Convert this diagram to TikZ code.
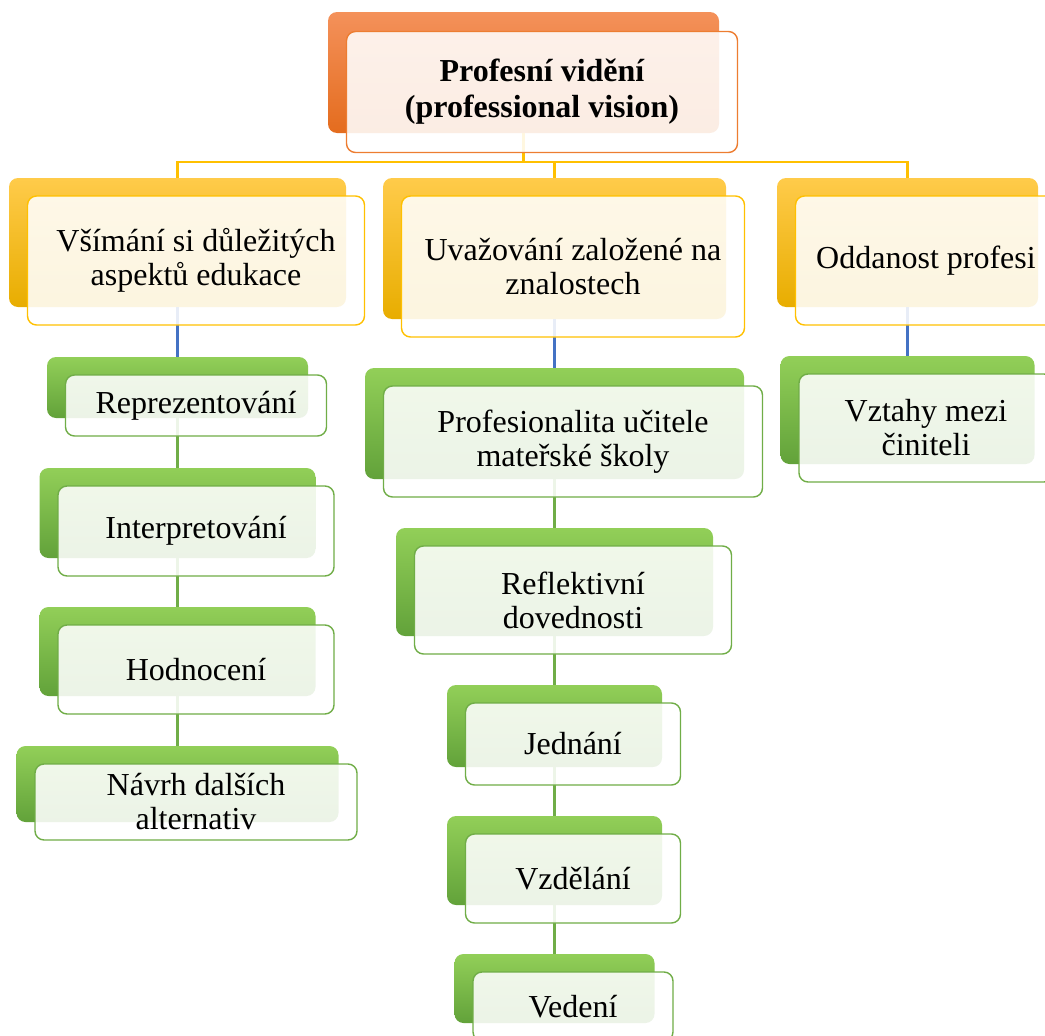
\documentclass[tikz,border=0pt]{standalone}
\usepackage{fontspec}
\setmainfont{Liberation Serif}
\definecolor{orT}{HTML}{F4915A}
\definecolor{orB}{HTML}{E46C1E}
\definecolor{orL}{HTML}{ED7D31}
\definecolor{ylT}{HTML}{FFCB4A}
\definecolor{ylB}{HTML}{E8AD00}
\definecolor{ylL}{HTML}{FFC000}
\definecolor{gnT}{HTML}{92CF58}
\definecolor{gnB}{HTML}{62A23A}
\definecolor{gnL}{HTML}{70AD47}
\definecolor{blL}{HTML}{4472C4}
\tikzset{
  backbox/.style={draw=none, rounded corners=9pt, inner sep=0pt},
  orback/.style={backbox, top color=orT, bottom color=orB},
  ylback/.style={backbox, top color=ylT, bottom color=ylB},
  gnback/.style={backbox, top color=gnT, bottom color=gnB},
  frontbox/.style={rounded corners=9pt, line width=1.4pt, fill=white, fill opacity=0.88,
    text opacity=1, draw opacity=1, align=center, inner sep=0pt,
    font=\fontsize{32}{34}\selectfont},
  orfront/.style={frontbox, draw=orL, font=\fontsize{32}{36}\selectfont\bfseries},
  ylfront/.style={frontbox, draw=ylL},
  gnfront/.style={frontbox, draw=gnL},
  yline/.style={draw=ylL, line width=2.4pt},
  bline/.style={draw=blL, line width=2.4pt},
  gline/.style={draw=gnL, line width=2.4pt},
  dim/.style 2 args={minimum width=#1pt, minimum height=#2pt}
}
\begin{document}
\begin{tikzpicture}[x=1pt, y=-1pt]
\useasboundingbox (0,0) rectangle (1045,1036);
\clip (0,0) rectangle (1045,1036);
% back boxes
\node[orback, dim={391}{121}] (rootB) at (523.5,72.5) {};
\node[ylback, dim={337}{129}] (y1B) at (177.5,242.5) {};
\node[ylback, dim={343}{141}] (y2B) at (554.5,248.5) {};
\node[ylback, dim={261}{129}] (y3B) at (907.5,242.5) {};
\node[gnback, dim={261}{61}] (repB) at (177.5,387.5) {};
\node[gnback, dim={276}{90}] (intB) at (177.5,513) {};
\node[gnback, dim={276}{89}] (hodB) at (177.5,651.5) {};
\node[gnback, dim={322}{76}] (navB) at (177.5,784) {};
\node[gnback, dim={379}{111}] (proB) at (554.5,423.5) {};
\node[gnback, dim={317}{108}] (refB) at (554.5,582) {};
\node[gnback, dim={215}{82}] (jedB) at (554.5,726) {};
\node[gnback, dim={215}{89}] (vzdB) at (554.5,860.5) {};
\node[gnback, dim={200}{69}] (vedB) at (554.5,988.5) {};
\node[gnback, dim={254}{108}] (vztB) at (907.5,410) {};
% connectors
\draw[yline] (rootB.south) -- ++(0,29) coordinate (hub);
\draw[yline] (hub) -| (y1B.north);
\draw[yline] (hub) -| (y2B.north);
\draw[yline] (hub) -| (y3B.north);
\draw[bline] (y1B.south) -- (repB.north);
\draw[bline] (y2B.south) -- (proB.north);
\draw[bline] (y3B.south) -- (vztB.north);
\draw[gline] (repB.south) -- (intB.north);
\draw[gline] (intB.south) -- (hodB.north);
\draw[gline] (hodB.south) -- (navB.north);
\draw[gline] (proB.south) -- (refB.north);
\draw[gline] (refB.south) -- (jedB.north);
\draw[gline] (jedB.south) -- (vzdB.north);
\draw[gline] (vzdB.south) -- (vedB.north);
% front boxes
\node[orfront, dim={391}{121}] (root) at ([shift={(18.5,19.5)}]rootB.center) {Profesní vidění\\(professional vision)};
\node[ylfront, dim={337}{129}] (y1) at ([shift={(18.5,18)}]y1B.center) {Všímání si důležitých\\aspektů edukace};
\node[ylfront, dim={343}{141}] (y2) at ([shift={(18.5,18)}]y2B.center) {Uvažování založené na\\znalostech};
\node[ylfront, dim={261}{129}] (y3) at ([shift={(18.5,18)}]y3B.center) {Oddanost profesi};
\node[gnfront, dim={261}{61}] (rep) at ([shift={(18.5,18)}]repB.center) {Reprezentování};
\node[gnfront, dim={276}{90}] (int) at ([shift={(18.5,18)}]intB.center) {Interpretování};
\node[gnfront, dim={276}{89}] (hod) at ([shift={(18.5,18)}]hodB.center) {Hodnocení};
\node[gnfront, dim={322}{76}] (nav) at ([shift={(18.5,18)}]navB.center) {Návrh dalších\\alternativ};
\node[gnfront, dim={379}{111}] (pro) at ([shift={(18.5,18)}]proB.center) {Profesionalita učitele\\mateřské školy};
\node[gnfront, dim={317}{108}] (ref) at ([shift={(18.5,18)}]refB.center) {Reflektivní\\dovednosti};
\node[gnfront, dim={215}{82}] (jed) at ([shift={(18.5,18)}]jedB.center) {Jednání};
\node[gnfront, dim={215}{89}] (vzd) at ([shift={(18.5,18)}]vzdB.center) {Vzdělání};
\node[gnfront, dim={200}{69}] (ved) at ([shift={(18.5,18)}]vedB.center) {Vedení};
\node[gnfront, dim={254}{108}] (vzt) at ([shift={(18.5,18)}]vztB.center) {Vztahy mezi\\činiteli};
\end{tikzpicture}
\end{document}
